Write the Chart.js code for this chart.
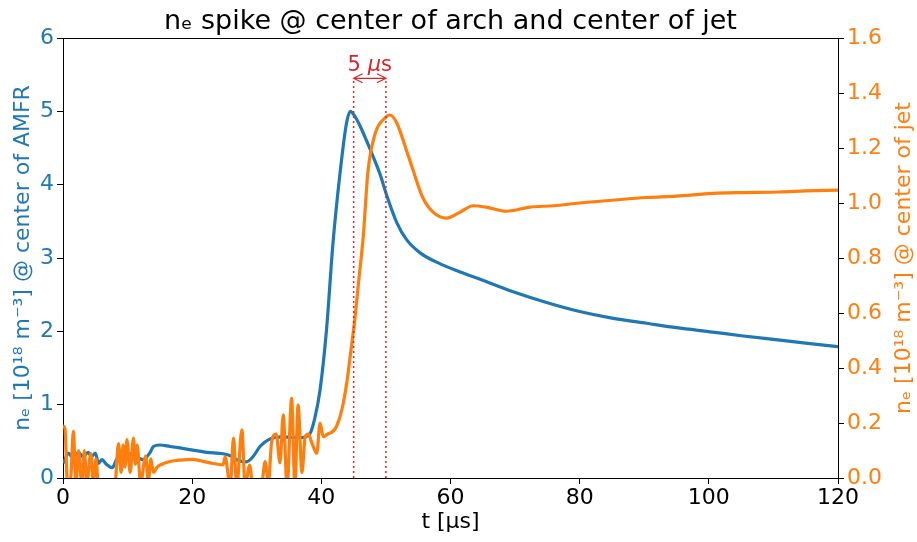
<!DOCTYPE html>
<html>
<head>
<meta charset="utf-8">
<script src="https://cdn.jsdelivr.net/npm/chart.js@4/dist/chart.umd.min.js"></script>
<style>
  html, body { margin: 0; padding: 0; background: #fff; }
  #wrap { width: 917px; height: 542px; }
</style>
</head>
<body>
<div id="wrap"><canvas id="myChart" width="917" height="542"></canvas></div>
<script>
// blue: n_e at center of arch (left axis)
const tArch = [0, 0.3, 0.8, 1.6, 2.4, 3.1, 3.9, 4.4, 5.0, 5.5, 6.0, 6.8, 7.6, 8.4, 9.2, 9.9, 10.7, 11.4, 12.4, 13.5,
  14, 15, 16.6, 18.1, 20.1, 22.3, 24.8, 26, 26.9, 28.4, 29.5, 30.5, 32, 34, 36.7, 38.2, 39, 39.8, 40.8, 41.8,
  42.9, 43.9, 44.5, 45.2, 46, 47, 47.8, 49.1, 50.1, 51.7, 53.2, 55.3, 58.4, 61.5, 64.6, 69.7, 75, 80, 85, 90.4,
  95, 100.6, 105, 111, 115, 120]
const neArch = [0.2, 0.25, 0.34, 0.27, 0.35, 0.29, 0.35, 0.29, 0.34, 0.2, 0.25, 0.18, 0.14, 0.27, 0.34, 0.27, 0.34, 0.29, 0.25, 0.35,
  0.43, 0.45, 0.43, 0.41, 0.38, 0.35, 0.33, 0.3, 0.25, 0.22, 0.3, 0.43, 0.53, 0.56, 0.55, 0.6, 0.82, 1.2, 2.02, 3.2,
  4.16, 4.84, 5.0, 4.93, 4.8, 4.6, 4.43, 4.14, 3.86, 3.48, 3.25, 3.07, 2.92, 2.81, 2.71, 2.54, 2.39, 2.27, 2.18, 2.11,
  2.05, 1.99, 1.94, 1.88, 1.84, 1.79]

// orange: n_e at center of jet (right axis)
const tJet = [0, 0.3, 0.7, 1.2, 1.6, 2.0, 2.4, 2.9, 3.3, 3.7, 4.3, 4.7, 5.1, 5.5, 8.0, 8.6, 9.0, 9.3, 9.6, 9.9,
  10.4, 10.9, 11.2, 11.5, 12.0, 12.8, 13.2, 13.6, 14.0, 14.6, 15.3, 16.6, 18.1, 20.1, 21.2, 22.8, 24.8, 25.1, 25.9, 26.4,
  26.9, 27.7, 28.2, 28.9, 29.4, 30.7, 31.3, 31.8, 32.3, 33.0, 33.6, 34.1, 34.7, 35.4, 35.9, 36.4, 37.0, 37.5, 38.0, 38.5,
  39.3, 39.8, 40.3, 41.0, 41.8, 42.4, 43.2, 43.9, 44.4, 45.2, 45.8, 46.5, 47.2, 48.3, 49.9, 50.6, 51.7, 53.2, 54.2, 55.7,
  57.3, 59.4, 61.5, 63.5, 65.5, 68.7, 72.3, 76, 80, 85, 90.4, 95, 100.6, 105, 111, 115, 120]
const neJet = [0.19, 0.18, -0.02, 0.0, 0.17, -0.02, 0.1, -0.02, 0.1, -0.02, 0.09, -0.02, 0.07, -0.03, -0.03, 0.125, 0.02, 0.12, 0.04, 0.14,
  0.02, 0.145, 0.05, 0.12, -0.02, 0.08, -0.02, 0.07, 0.02, 0.04, 0.05, 0.06, 0.065, 0.068, 0.063, 0.055, 0.048, 0.077, -0.03, 0.145,
  -0.03, 0.175, -0.03, 0.047, -0.03, -0.03, 0.06, -0.02, 0.13, 0.16, 0.055, 0.23, -0.03, 0.29, -0.03, 0.265, 0.02, 0.15, 0.16, 0.13,
  0.09, 0.2, 0.15, 0.16, 0.17, 0.19, 0.25, 0.34, 0.43, 0.58, 0.72, 0.88, 1.11, 1.25, 1.31, 1.32, 1.29, 1.19, 1.12, 1.02,
  0.967, 0.945, 0.967, 0.99, 0.985, 0.97, 0.985, 0.99, 1.0, 1.01, 1.02, 1.025, 1.035, 1.038, 1.04, 1.044, 1.047]

// the 5 us marker
const markTimes = [45, 50]
const markLevel = 5.45   // left axis units
const markLabel = ['5 ', 'μ', 's']

const blue = '#1f77b4', orange = '#ff7f0e', red = '#d62728'
Chart.defaults.font.family = 'DejaVu Sans'
Chart.defaults.color = '#000'

function pts(xs, ys) { return xs.map((x, i) => ({x: x, y: ys[i]})) }

const annot = {
  id: 'annot',
  afterDatasetsDraw(chart) {
    const {ctx, chartArea: a, scales} = chart
    const xa = scales.x.getPixelForValue(markTimes[0])
    const xb = scales.x.getPixelForValue(markTimes[1])
    const ym = scales.y.getPixelForValue(markLevel)
    ctx.save()
    ctx.strokeStyle = red
    ctx.lineWidth = 1.5
    ctx.setLineDash([2, 3])
    ;[xa, xb].forEach(x => {
      ctx.beginPath(); ctx.moveTo(x, a.bottom); ctx.lineTo(x, ym); ctx.stroke()
    })
    ctx.setLineDash([])
    ctx.lineWidth = 1.2
    ctx.beginPath()
    ctx.moveTo(xa, ym); ctx.lineTo(xb, ym)
    ctx.moveTo(xa + 9, ym - 4.5); ctx.lineTo(xa, ym); ctx.lineTo(xa + 9, ym + 4.5)
    ctx.moveTo(xb - 9, ym - 4.5); ctx.lineTo(xb, ym); ctx.lineTo(xb - 9, ym + 4.5)
    ctx.stroke()
    // label "5 μs"
    ctx.fillStyle = red
    ctx.textBaseline = 'alphabetic'
    const fonts = ['21px "DejaVu Sans"', 'italic 21px "DejaVu Sans"', '21px "DejaVu Sans"']
    let w = 0
    markLabel.forEach((s, i) => { ctx.font = fonts[i]; w += ctx.measureText(s).width })
    let x = (xa + xb) / 2 - w / 2
    markLabel.forEach((s, i) => {
      ctx.font = fonts[i]; ctx.textAlign = 'left'
      ctx.fillText(s, x, ym - 7); x += ctx.measureText(s).width
    })
    // top spine
    ctx.strokeStyle = '#000'; ctx.lineWidth = 1
    ctx.beginPath(); ctx.moveTo(a.left, a.top + 0.5); ctx.lineTo(a.right, a.top + 0.5); ctx.stroke()
    // right axis title, reading bottom to top
    ctx.translate(904, (a.top + a.bottom) / 2)
    ctx.rotate(-Math.PI / 2)
    ctx.font = '22px "DejaVu Sans"'
    ctx.fillStyle = orange
    ctx.textAlign = 'center'; ctx.textBaseline = 'middle'
    ctx.fillText('nₑ [10¹⁸ m⁻³] @ center of jet', 0, 0)
    ctx.restore()
  }
}

const chart = new Chart(document.getElementById('myChart'), {
  type: 'line',
  data: {
    datasets: [
      {data: pts(tJet, neJet), yAxisID: 'y1', borderColor: orange, borderWidth: 3.2, pointRadius: 0,
        cubicInterpolationMode: 'monotone'},
      {data: pts(tArch, neArch), yAxisID: 'y', borderColor: blue, borderWidth: 3.2, pointRadius: 0,
        cubicInterpolationMode: 'monotone'}
    ]
  },
  options: {
    responsive: false,
    animation: false,
    layout: {padding: 0},
    plugins: {
      legend: {display: false},
      tooltip: {enabled: false},
      title: {display: true, text: 'nₑ spike @ center of arch and center of jet', fullSize: false,
        font: {size: 27, weight: 'normal'}, color: '#000', padding: {top: 5.5, bottom: 0.1}}
    },
    scales: {
      x: {
        type: 'linear', min: 0, max: 120,
        ticks: {stepSize: 20, font: {size: 22}, color: '#000', padding: 1, maxRotation: 0},
        grid: {drawOnChartArea: false, drawTicks: true, tickLength: 6, color: '#000'},
        border: {display: true, color: '#000', width: 1},
        title: {display: true, text: 't [μs]', font: {size: 22}, color: '#000', padding: {top: 0, bottom: 7}},
        afterFit: s => { s.height = 64 }
      },
      y: {
        position: 'left', min: 0, max: 6,
        ticks: {stepSize: 1, font: {size: 22}, color: blue, padding: 3},
        grid: {drawOnChartArea: false, drawTicks: true, tickLength: 6, color: '#000'},
        border: {display: true, color: '#000', width: 1},
        title: {display: true, text: 'nₑ [10¹⁸ m⁻³] @ center of AMFR', font: {size: 22}, color: blue,
          padding: {top: 10, bottom: 0}},
        afterFit: s => { s.width = 63 }
      },
      y1: {
        position: 'right', min: 0, max: 1.6,
        ticks: {stepSize: 0.2, font: {size: 22}, color: orange, padding: 3, callback: v => v.toFixed(1)},
        grid: {drawOnChartArea: false, drawTicks: true, tickLength: 6, color: '#000'},
        border: {display: true, color: '#000', width: 1},
        afterFit: s => { s.width = 79 }
      }
    }
  },
  plugins: [annot]
})
</script>
</body>
</html>
